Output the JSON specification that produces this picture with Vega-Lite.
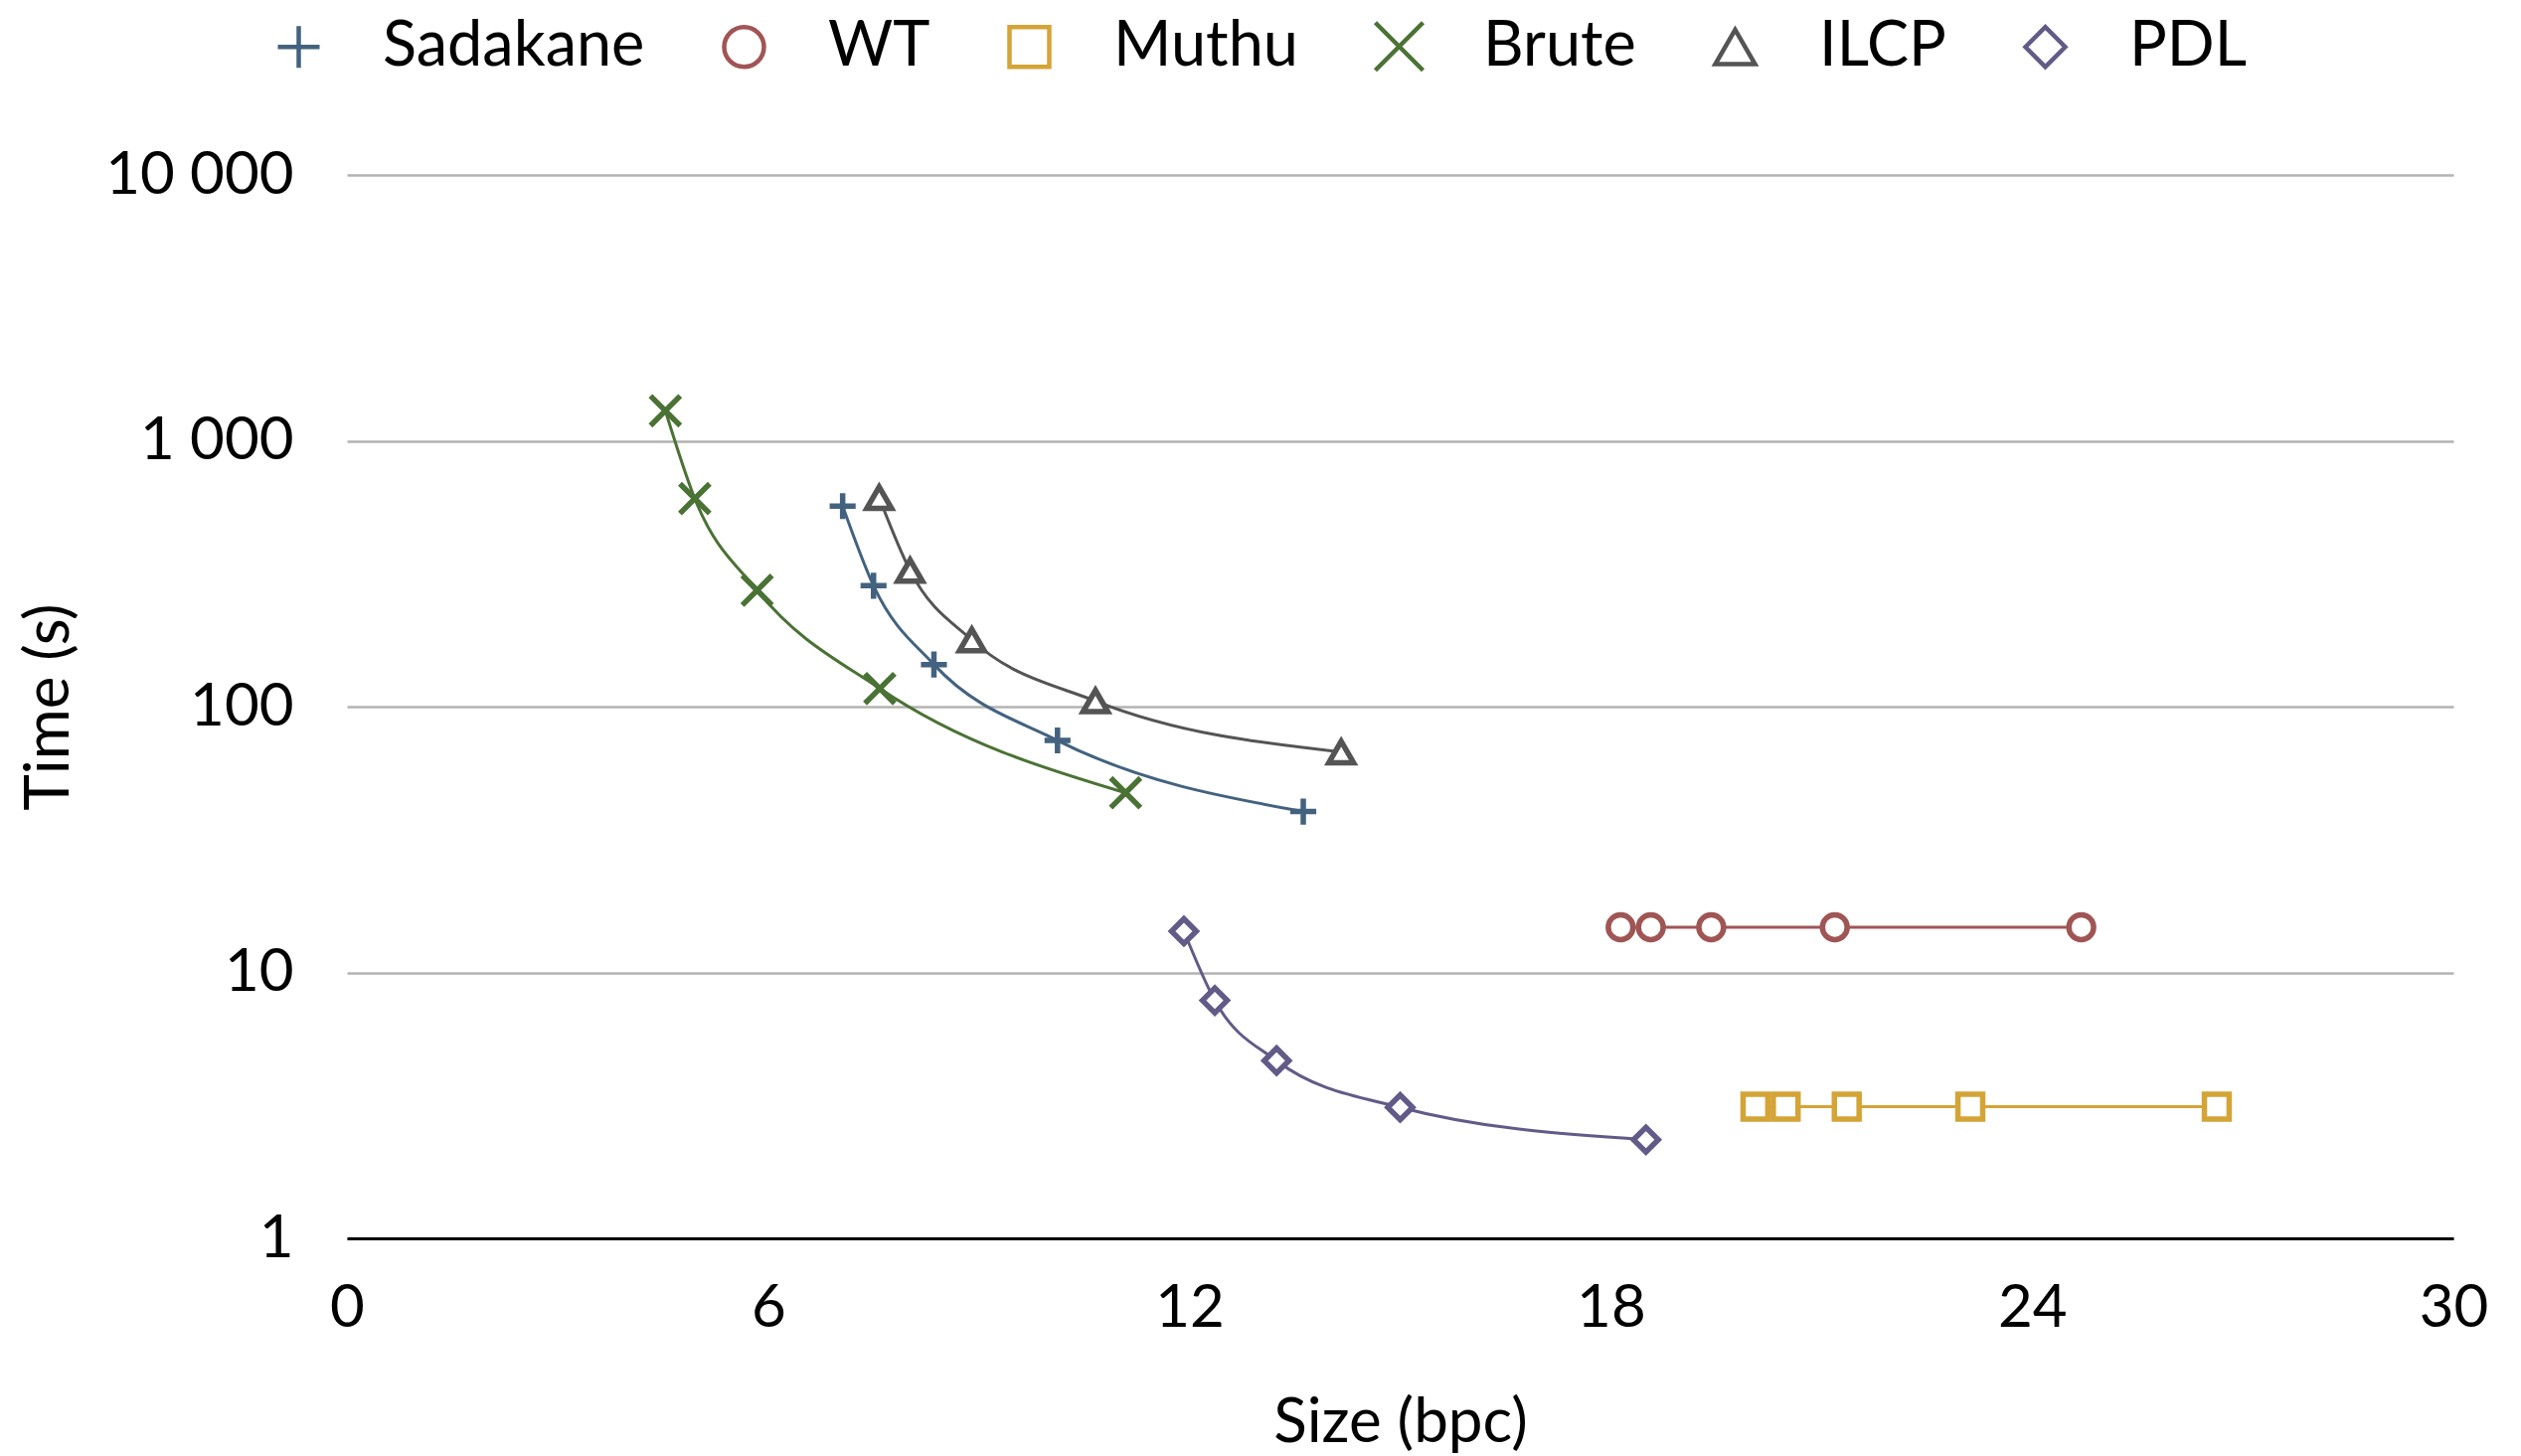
{
  "$schema": "https://vega.github.io/schema/vega-lite/v6.json",
  "autosize": {"type": "none"},
  "width": 2119,
  "height": 1070,
  "padding": {"left": 349, "top": 176, "right": 68, "bottom": 219},
  "background": "white",
  "data": {
    "values": [
      {"series": "Sadakane", "size": 7.06, "time": 568},
      {"series": "Sadakane", "size": 7.50, "time": 285},
      {"series": "Sadakane", "size": 8.36, "time": 144},
      {"series": "Sadakane", "size": 10.12, "time": 74.6},
      {"series": "Sadakane", "size": 13.62, "time": 40.3},
      {"series": "WT", "size": 18.14, "time": 14.8},
      {"series": "WT", "size": 18.57, "time": 14.8},
      {"series": "WT", "size": 19.43, "time": 14.8},
      {"series": "WT", "size": 21.19, "time": 14.8},
      {"series": "WT", "size": 24.70, "time": 14.8},
      {"series": "Muthu", "size": 20.06, "time": 3.13},
      {"series": "Muthu", "size": 20.49, "time": 3.13},
      {"series": "Muthu", "size": 21.36, "time": 3.13},
      {"series": "Muthu", "size": 23.12, "time": 3.13},
      {"series": "Muthu", "size": 26.63, "time": 3.13},
      {"series": "Brute", "size": 4.535, "time": 1297},
      {"series": "Brute", "size": 4.954, "time": 606},
      {"series": "Brute", "size": 5.842, "time": 274},
      {"series": "Brute", "size": 7.589, "time": 117},
      {"series": "Brute", "size": 11.09, "time": 47.4},
      {"series": "ILCP", "size": 7.58, "time": 611},
      {"series": "ILCP", "size": 8.02, "time": 325},
      {"series": "ILCP", "size": 8.90, "time": 178},
      {"series": "ILCP", "size": 10.66, "time": 105},
      {"series": "ILCP", "size": 14.16, "time": 67.5},
      {"series": "PDL", "size": 11.92, "time": 14.3},
      {"series": "PDL", "size": 12.36, "time": 7.85},
      {"series": "PDL", "size": 13.24, "time": 4.66},
      {"series": "PDL", "size": 15.0, "time": 3.11},
      {"series": "PDL", "size": 18.50, "time": 2.35}
    ]
  },
  "encoding": {
    "x": {
      "field": "size", "type": "quantitative",
      "scale": {"domain": [0, 30], "nice": false, "zero": false},
      "axis": {
        "title": "Size (bpc)", "values": [0, 6, 12, 18, 24, 30],
        "grid": false, "ticks": false, "domain": true,
        "domainColor": "#000000", "domainWidth": 3,
        "labelFont": "Lato", "labelFontSize": 60, "labelColor": "#000000",
        "labelPadding": 41, "labelFlush": false,
        "titleFont": "Lato", "titleFontSize": 62, "titleFontWeight": "normal",
        "titleColor": "#000000", "titlePadding": 55
      }
    },
    "y": {
      "field": "time", "type": "quantitative",
      "scale": {"type": "log", "domain": [1, 10000], "nice": false},
      "axis": {
        "title": "Time (s)", "values": [1, 10, 100, 1000, 10000],
        "labelExpr": "replace(format(datum.value, ','), ',', ' ')",
        "grid": true, "gridColor": "#b3b3b3", "gridWidth": 2.5,
        "ticks": false, "domain": false,
        "labelFont": "Lato", "labelFontSize": 60, "labelColor": "#000000",
        "labelPadding": 54, "labelLimit": 600,
        "titleFont": "Lato", "titleFontSize": 62, "titleFontWeight": "normal",
        "titleColor": "#000000", "titlePadding": 68
      }
    },
    "stroke": {
      "field": "series", "type": "nominal", "title": null,
      "scale": {
        "domain": ["Sadakane", "WT", "Muthu", "Brute", "ILCP", "PDL"],
        "range": ["#43627f", "#a05555", "#d4a437", "#4b7235", "#545454", "#625a87"]
      },
      "legend": {
        "orient": "none", "direction": "horizontal",
        "legendX": -80, "legendY": -161,
        "labelFont": "Lato", "labelFontSize": 63, "labelColor": "#000000",
        "labelOffset": 53, "columnPadding": 68, "labelLimit": 600,
        "symbolSize": 1600, "symbolStrokeWidth": 4.5, "symbolFillColor": "white"
      }
    }
  },
  "layer": [
    {
      "mark": {"type": "line", "interpolate": "monotone", "strokeWidth": 3},
      "encoding": {
        "order": {"field": "size", "type": "quantitative"}
      }
    },
    {
      "mark": {"type": "point", "filled": false, "fill": "white", "fillOpacity": 1, "opacity": 1, "strokeWidth": 5.5, "size": 620},
      "encoding": {
        "shape": {
          "field": "series", "type": "nominal", "title": null,
          "scale": {
            "domain": ["Sadakane", "WT", "Muthu", "Brute", "ILCP", "PDL"],
            "range": ["M-1.05,0H1.05M0,-1.05V1.05", "circle", "square", "M-1.2,-1.2L1.2,1.2M-1.2,1.2L1.2,-1.2", "triangle-up", "diamond"]
          }
        }
      }
    }
  ],
  "config": {"view": {"stroke": null}}
}
